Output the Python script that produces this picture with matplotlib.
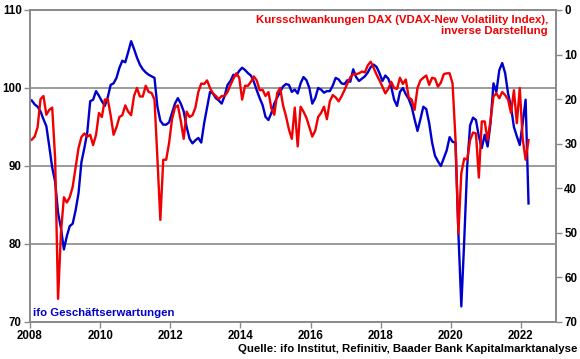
import numpy as np
from matplotlib import pyplot as plt

plt.rcParams['font.family'] = ['Liberation Sans', 'DejaVu Sans']
plt.rcParams['font.weight'] = 'bold'

start_year = 2008

# ifo Geschaeftserwartungen, monthly from Jan 2008 (left axis)
ifo = [98.4, 97.9, 97.6, 97.0, 96.0, 95.1, 92.5, 89.8, 88.0, 84.0,
       82.0, 79.3, 81.0, 82.3, 82.6, 84.3, 86.5, 90.5, 92.3, 94.3,
       98.3, 98.5, 99.6, 99.0, 98.3, 97.7, 98.8, 100.4, 100.6, 101.3,
       102.6, 103.5, 103.3, 104.6, 106.0, 105.0, 103.9, 103.0, 102.4, 102.0,
       101.7, 101.5, 101.3, 97.6, 95.8, 95.3, 95.3, 95.6, 96.8, 98.0,
       98.7, 98.0, 97.0, 95.0, 93.5, 92.9, 93.3, 93.6, 93.0, 95.5,
       97.5, 99.5, 99.3, 98.7, 98.4, 98.0, 99.0, 100.4, 100.9, 101.7,
       101.6, 102.2, 102.6, 102.3, 101.9, 101.6, 100.8, 99.7, 98.7, 97.8,
       96.3, 95.9, 96.8, 98.0, 98.8, 99.5, 100.2, 100.5, 100.4, 99.5,
       99.8, 99.3, 100.6, 101.4, 101.0, 100.0, 98.0, 98.7, 100.0, 99.8,
       99.4, 99.6, 99.6, 100.3, 101.3, 101.1, 100.6, 100.5, 101.0, 100.8,
       102.4, 101.4, 100.9, 101.2, 101.5, 102.0, 102.7, 103.0, 102.7, 101.9,
       100.9, 101.6, 101.2, 100.2, 98.5, 97.7, 99.5, 100.0, 99.2, 98.6,
       97.6, 96.0, 94.5, 96.0, 97.6, 97.3, 95.5, 93.0, 91.3, 90.6,
       90.0, 91.0, 92.0, 93.7, 93.1, 93.0, 81.4, 72.0, 80.5, 89.9,
       95.2, 96.2, 95.9, 93.8, 92.3, 94.0, 92.5, 95.5, 100.6, 99.5,
       102.3, 103.2, 101.9, 99.3, 97.6, 95.0, 93.8, 92.7, 95.5, 98.5,
       85.2]

# VDAX-New, monthly from Jan 2008 (right axis, inverted)
vdax = [29.1, 28.4, 26.3, 20.0, 19.3, 23.5, 22.4, 21.9, 33.3, 64.8,
        49.9, 42.0, 43.2, 42.0, 39.7, 35.4, 31.0, 28.5, 27.7, 28.4,
        28.0, 30.3, 28.0, 23.1, 24.0, 20.1, 20.0, 23.6, 28.0, 26.3,
        24.0, 23.6, 21.4, 22.8, 23.6, 19.3, 17.5, 19.4, 19.4, 17.0,
        18.4, 18.6, 20.1, 33.3, 47.1, 33.6, 33.6, 29.8, 24.5, 21.9,
        21.4, 24.9, 28.9, 22.8, 24.0, 23.6, 21.9, 18.4, 16.5, 16.6,
        15.8, 17.5, 18.7, 19.3, 20.0, 19.3, 19.3, 18.4, 16.8, 15.4,
        14.2, 15.2, 20.1, 17.0, 17.0, 16.1, 14.9, 15.8, 18.0, 17.9,
        19.3, 18.4, 22.1, 23.5, 18.6, 17.5, 21.4, 23.8, 26.8, 28.9,
        21.9, 30.6, 21.7, 22.8, 24.2, 26.3, 28.4, 27.1, 24.0, 23.1,
        21.7, 24.5, 20.5, 19.1, 19.6, 20.5, 19.4, 18.0, 16.5, 15.1,
        14.4, 14.4, 14.2, 13.8, 14.0, 12.4, 11.6, 13.0, 14.5, 15.8,
        17.2, 18.7, 17.7, 16.1, 17.5, 17.7, 15.2, 16.6, 15.6, 19.6,
        20.1, 22.4, 17.5, 15.8, 15.2, 14.7, 16.8, 15.2, 15.4, 17.2,
        16.3, 14.4, 14.2, 14.2, 16.5, 28.9, 50.1, 36.6, 33.3, 33.6,
        29.2, 27.5, 27.7, 37.6, 25.0, 25.0, 29.2, 24.7, 19.4, 18.7,
        19.8, 18.4, 19.1, 20.1, 23.1, 18.0, 25.4, 17.5, 28.9, 33.6,
        29.2]

x = start_year + (np.arange(len(ifo)) + 0.6) / 12

red = '#F00000'
blue = '#0000CC'
gray = '#8A8A8A'

fig = plt.figure(figsize=(5.8, 3.59), dpi=100)
ax = fig.add_axes([30 / 580, 37 / 359, 526 / 580, 312 / 359])
ax2 = ax.twinx()

ax.plot(x, ifo, color=blue, lw=1.7)
ax2.plot(x, vdax, color=red, lw=1.7)

ax.set_xlim(2008, 2023)
ax.set_xticks(range(2008, 2023, 2))
ax.set_ylim(70, 110)
ax.set_yticks(range(70, 111, 10))
ax2.set_ylim(70, 0)
ax2.set_yticks(range(0, 71, 10))

ax.grid(axis='y', color=gray, lw=1.2)
for a in (ax, ax2):
    for s in a.spines.values():
        s.set_color(gray)
        s.set_linewidth(1.2)
    a.tick_params(length=4, width=1, color=gray, labelsize=8.3, pad=2)

fig.text(548 / 580, 1 - 15 / 359,
         'Kursschwankungen DAX (VDAX-New Volatility Index),\ninverse Darstellung',
         ha='right', va='top', color=red, fontsize=8.2, fontweight='bold',
         multialignment='right', linespacing=1.15)
fig.text(33 / 580, 1 - 316 / 359, 'ifo Geschäftserwartungen',
         ha='left', va='baseline', color=blue, fontsize=8.2, fontweight='bold')
fig.text(577 / 580, 1 - 352 / 359,
         'Quelle: ifo Institut, Refinitiv, Baader Bank Kapitalmarktanalyse',
         ha='right', va='baseline', color='black', fontsize=8.2, fontweight='bold')

plt.savefig('out.png', dpi=100)
